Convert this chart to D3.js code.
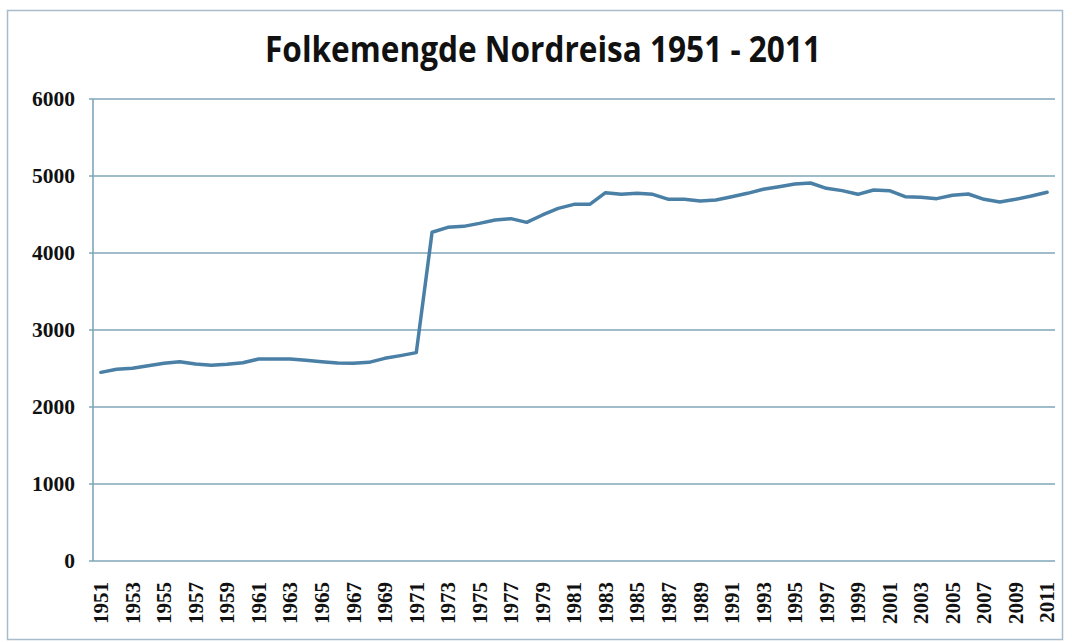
<!DOCTYPE html>
<html>
<head>
<meta charset="utf-8">
<script src="https://cdn.jsdelivr.net/npm/d3@7"></script>
<style>
  html, body { margin: 0; padding: 0; background: #ffffff; }
  svg { display: block; }
</style>
</head>
<body>
<svg id="chart" width="1072" height="642"></svg>
<script>
const chartTitle = "Folkemengde Nordreisa 1951 - 2011";
const years = d3.range(1951, 2012);
const population = [
  2450, 2490, 2502, 2537, 2567, 2589, 2558, 2541, 2554, 2575,
  2623, 2623, 2623, 2606, 2589, 2571, 2567, 2580, 2632, 2667,
  2706, 4269, 4333, 4346, 4385, 4429, 4446, 4398, 4494, 4580,
  4632, 4632, 4783, 4762, 4775, 4762, 4697, 4697, 4675, 4688,
  4731, 4775, 4827, 4861, 4896, 4909, 4840, 4810, 4762, 4818,
  4810, 4731, 4723, 4706, 4749, 4766, 4697, 4662, 4697, 4740,
  4788
];
const yTicks = [0, 1000, 2000, 3000, 4000, 5000, 6000];
const xTickYears = years.filter((y, i) => i % 2 === 0);

const svg = d3.select("#chart");
const plot = { left: 93, right: 1055, top: 99, bottom: 561 };

// outer frame
svg.append("rect")
  .attr("x", 7.5).attr("y", 10.5)
  .attr("width", 1055).attr("height", 629)
  .attr("fill", "#ffffff")
  .attr("stroke", "#a9bccb").attr("stroke-width", 1.5);

// title
svg.append("text")
  .attr("x", 543).attr("y", 62)
  .attr("text-anchor", "middle")
  .attr("font-family", "'Open Sans', 'Noto Sans', sans-serif")
  .attr("font-weight", 700)
  .attr("font-size", 35)
  .attr("textLength", 556)
  .attr("lengthAdjust", "spacingAndGlyphs")
  .attr("fill", "#111111")
  .text(chartTitle);

const x = d3.scaleBand()
  .domain(years)
  .range([plot.left, plot.right])
  .paddingInner(0).paddingOuter(0);

const y = d3.scaleLinear()
  .domain([0, 6000])
  .range([plot.bottom, plot.top]);

// gridlines
svg.append("g")
  .selectAll("line")
  .data(yTicks.filter(t => t > 0))
  .join("line")
  .attr("x1", plot.left - 4).attr("x2", plot.right)
  .attr("y1", d => y(d)).attr("y2", d => y(d))
  .attr("stroke", "#7fa6ba").attr("stroke-width", 1.6);

// axes lines
svg.append("line")
  .attr("x1", plot.left).attr("x2", plot.left)
  .attr("y1", plot.top).attr("y2", plot.bottom)
  .attr("stroke", "#7fa6ba").attr("stroke-width", 1.6);
svg.append("line")
  .attr("x1", plot.left - 4).attr("x2", plot.right)
  .attr("y1", plot.bottom).attr("y2", plot.bottom)
  .attr("stroke", "#7fa6ba").attr("stroke-width", 1.6);

// y axis labels
const yAxis = d3.axisLeft(y).tickValues(yTicks).tickFormat(d3.format("d")).tickSize(0).tickPadding(18);
const gy = svg.append("g").attr("transform", `translate(${plot.left},0)`).call(yAxis);
gy.select(".domain").remove();
gy.selectAll("text")
  .attr("font-family", "'Liberation Serif', 'DejaVu Serif', serif")
  .attr("font-weight", "bold")
  .attr("font-size", 21.5)
  .attr("fill", "#111111");

// x axis labels
const xAxis = d3.axisBottom(x).tickValues(xTickYears).tickFormat(d3.format("d")).tickSize(0).tickPadding(0);
const gx = svg.append("g").attr("transform", `translate(0,${plot.bottom})`).call(xAxis);
gx.select(".domain").remove();
gx.selectAll("text")
  .attr("font-family", "'Liberation Serif', 'DejaVu Serif', serif")
  .attr("font-weight", "bold")
  .attr("font-size", 21)
  .attr("fill", "#111111")
  .attr("text-anchor", "end")
  .attr("transform", "translate(0,21) rotate(-90)")
  .attr("x", 0).attr("y", 0)
  .attr("dy", "0.35em");

// line
const line = d3.line()
  .x((d, i) => x(years[i]) + x.bandwidth() / 2)
  .y(d => y(d));

svg.append("path")
  .datum(population)
  .attr("d", line)
  .attr("fill", "none")
  .attr("stroke", "#4a7fa6")
  .attr("stroke-width", 3.5)
  .attr("stroke-linejoin", "round")
  .attr("stroke-linecap", "round");
</script>
</body>
</html>
